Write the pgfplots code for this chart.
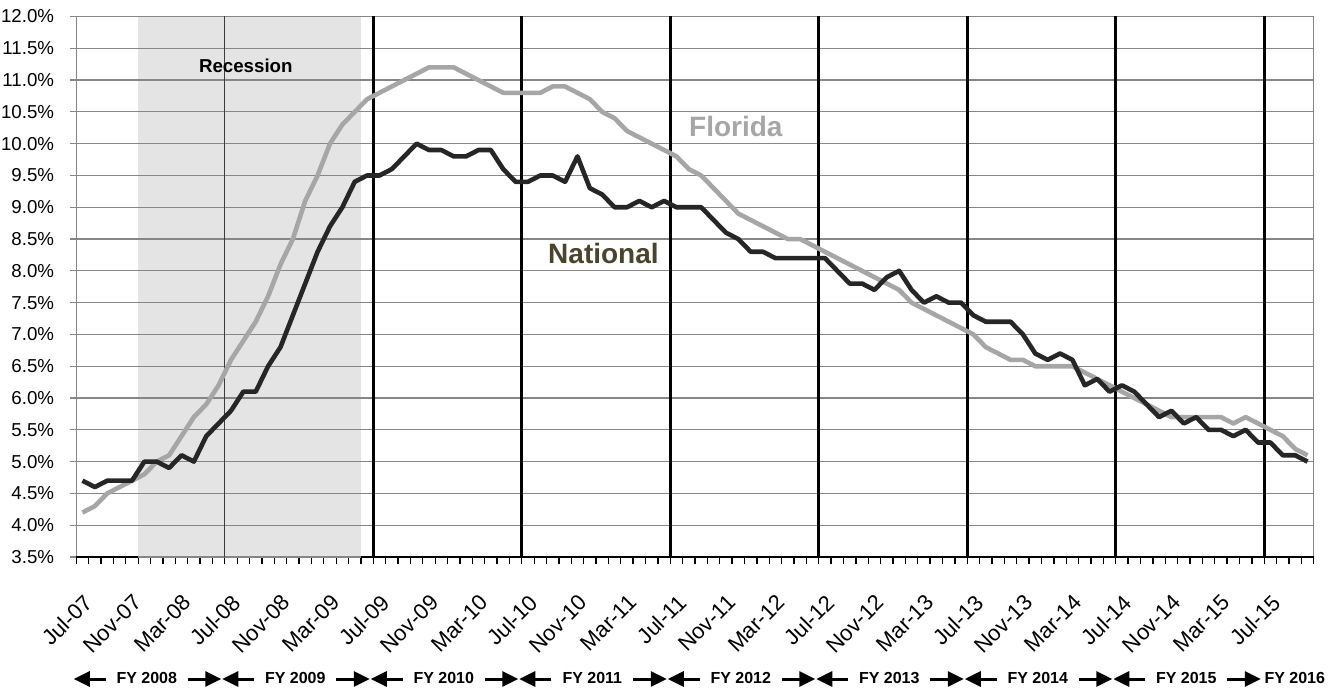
\documentclass[border=0pt]{standalone}
\usepackage{fontspec}
\setmainfont{Liberation Sans}
\usepackage{pgfplots}
\usepackage{pgfplotstable}
\pgfplotsset{compat=1.18}
\usetikzlibrary{arrows.meta}
\definecolor{flgray}{RGB}{166,166,166}
\definecolor{usdark}{RGB}{38,38,38}
\definecolor{natcol}{RGB}{74,69,42}
\definecolor{gridgray}{RGB}{134,134,134}
\definecolor{shadegray}{RGB}{228,228,228}
\definecolor{thinline}{RGB}{60,60,60}

\pgfplotstableread{
i fl us
0 4.2 4.7
1 4.3 4.6
2 4.5 4.7
3 4.6 4.7
4 4.7 4.7
5 4.8 5.0
6 5.0 5.0
7 5.1 4.9
8 5.4 5.1
9 5.7 5.0
10 5.9 5.4
11 6.2 5.6
12 6.6 5.8
13 6.9 6.1
14 7.2 6.1
15 7.6 6.5
16 8.1 6.8
17 8.5 7.3
18 9.1 7.8
19 9.5 8.3
20 10.0 8.7
21 10.3 9.0
22 10.5 9.4
23 10.7 9.5
24 10.8 9.5
25 10.9 9.6
26 11.0 9.8
27 11.1 10.0
28 11.2 9.9
29 11.2 9.9
30 11.2 9.8
31 11.1 9.8
32 11.0 9.9
33 10.9 9.9
34 10.8 9.6
35 10.8 9.4
36 10.8 9.4
37 10.8 9.5
38 10.9 9.5
39 10.9 9.4
40 10.8 9.8
41 10.7 9.3
42 10.5 9.2
43 10.4 9.0
44 10.2 9.0
45 10.1 9.1
46 10.0 9.0
47 9.9 9.1
48 9.8 9.0
49 9.6 9.0
50 9.5 9.0
51 9.3 8.8
52 9.1 8.6
53 8.9 8.5
54 8.8 8.3
55 8.7 8.3
56 8.6 8.2
57 8.5 8.2
58 8.5 8.2
59 8.4 8.2
60 8.3 8.2
61 8.2 8.0
62 8.1 7.8
63 8.0 7.8
64 7.9 7.7
65 7.8 7.9
66 7.7 8.0
67 7.5 7.7
68 7.4 7.5
69 7.3 7.6
70 7.2 7.5
71 7.1 7.5
72 7.0 7.3
73 6.8 7.2
74 6.7 7.2
75 6.6 7.2
76 6.6 7.0
77 6.5 6.7
78 6.5 6.6
79 6.5 6.7
80 6.5 6.6
81 6.4 6.2
82 6.3 6.3
83 6.2 6.1
84 6.1 6.2
85 6.0 6.1
86 5.9 5.9
87 5.8 5.7
88 5.7 5.8
89 5.7 5.6
90 5.7 5.7
91 5.7 5.5
92 5.7 5.5
93 5.6 5.4
94 5.7 5.5
95 5.6 5.3
96 5.5 5.3
97 5.4 5.1
98 5.2 5.1
99 5.1 5.0
}\datatable

\begin{document}
\begin{tikzpicture}
\begin{axis}[
  set layers,
  scale only axis, width=1237.5bp, height=540.5bp,
  at={(0,0)}, anchor=south west,
  xmin=-0.5, xmax=99.5, ymin=3.5, ymax=12,
  axis line style={draw=gridgray, line width=1.2bp},
  /pgf/number format/assume math mode=true,
  tick pos=left,
  ytick={3.5,4,4.5,5,5.5,6,6.5,7,7.5,8,8.5,9,9.5,10,10.5,11,11.5,12},
  yticklabel={\pgfmathprintnumber[fixed,fixed zerofill,precision=1]{\tick}\%},
  yticklabel style={inner sep=0pt, anchor=east, font=\fontsize{18.7bp}{20bp}\selectfont},
  yticklabel shift=16bp,
  ymajorgrids, grid style={gridgray, line width=1.2bp},
  ytick style={gridgray, line width=1.2bp},
  tick align=outside,
  major tick length=6bp, minor tick length=7bp,
  xtick={0,4,...,96},
  xticklabels={Jul-07,Nov-07,Mar-08,Jul-08,Nov-08,Mar-09,Jul-09,Nov-09,Mar-10,Jul-10,Nov-10,Mar-11,Jul-11,Nov-11,Mar-12,Jul-12,Nov-12,Mar-13,Jul-13,Nov-13,Mar-14,Jul-14,Nov-14,Mar-15,Jul-15},
  every major x tick/.style={draw=none},
  minor xtick={-0.5,0.5,...,99.5},
  every minor x tick/.style={black, line width=1.3bp},
  xticklabel style={rotate=45, anchor=north east, inner sep=0pt, font=\fontsize{22bp}{24bp}\selectfont},
  xticklabel shift=30bp,
  clip=false,
]
\addplot[draw=none, fill=shadegray, on layer=axis background] coordinates {(4.5,3.5) (4.5,12) (22.5,12) (22.5,3.5)};
\draw[black, line width=1.6bp] (axis cs:-0.5,3.5) -- (axis cs:4.5,3.5);
\draw[black, line width=1.6bp] (axis cs:22.5,3.5) -- (axis cs:99.5,3.5);
\draw[thinline, line width=1.4bp] (axis cs:11.5,3.5) -- (axis cs:11.5,12);
\pgfplotsinvokeforeach{23.5,35.5,47.5,59.5,71.5,83.5,95.5}{
  \draw[black, line width=2.7bp] (axis cs:#1,3.5) -- (axis cs:#1,12);
}
\node[font=\bfseries\fontsize{18.7bp}{20bp}\selectfont] at (axis cs:13.2,11.22) {Recession};
\node[flgray, font=\bfseries\fontsize{28bp}{30bp}\selectfont] at (axis cs:52.8,10.27) {Florida};
\node[natcol, font=\bfseries\fontsize{28bp}{30bp}\selectfont] at (axis cs:42.1,8.28) {National};
\addplot[flgray, line width=4.6bp, line join=round] table[x=i,y=fl]{\datatable};
\addplot[usdark, line width=4.6bp, line join=round] table[x=i,y=us]{\datatable};
\end{axis}
\foreach \k/\lab in {0/2008,1/2009,2/2010,3/2011,4/2012,5/2013,6/2014,7/2015}{
  \pgfmathsetmacro\bl{148.5*\k-3}
  \pgfmathsetmacro\br{148.5*\k+145.5}
  \pgfmathsetmacro\c{148.5*\k+70.5}
  \node[font=\bfseries\fontsize{16bp}{18bp}\selectfont, inner sep=0pt] at (\c bp,-121bp) {FY \lab};
  \draw[line width=3bp, -{Triangle[length=16bp,width=15bp]}] (\c bp-41bp,-122bp) -- (\bl bp+0.5bp,-122bp);
  \draw[line width=3bp, -{Triangle[length=16bp,width=15bp]}] (\c bp+41bp,-122bp) -- (\br bp-0.5bp,-122bp);
}
\node[font=\bfseries\fontsize{16bp}{18bp}\selectfont, inner sep=0pt, anchor=west] at (1188bp,-121bp) {FY 2016};
\pgfresetboundingbox
\useasboundingbox (-76.3bp,-133bp) rectangle (1262.7bp,557bp);
\end{tikzpicture}
\end{document}
